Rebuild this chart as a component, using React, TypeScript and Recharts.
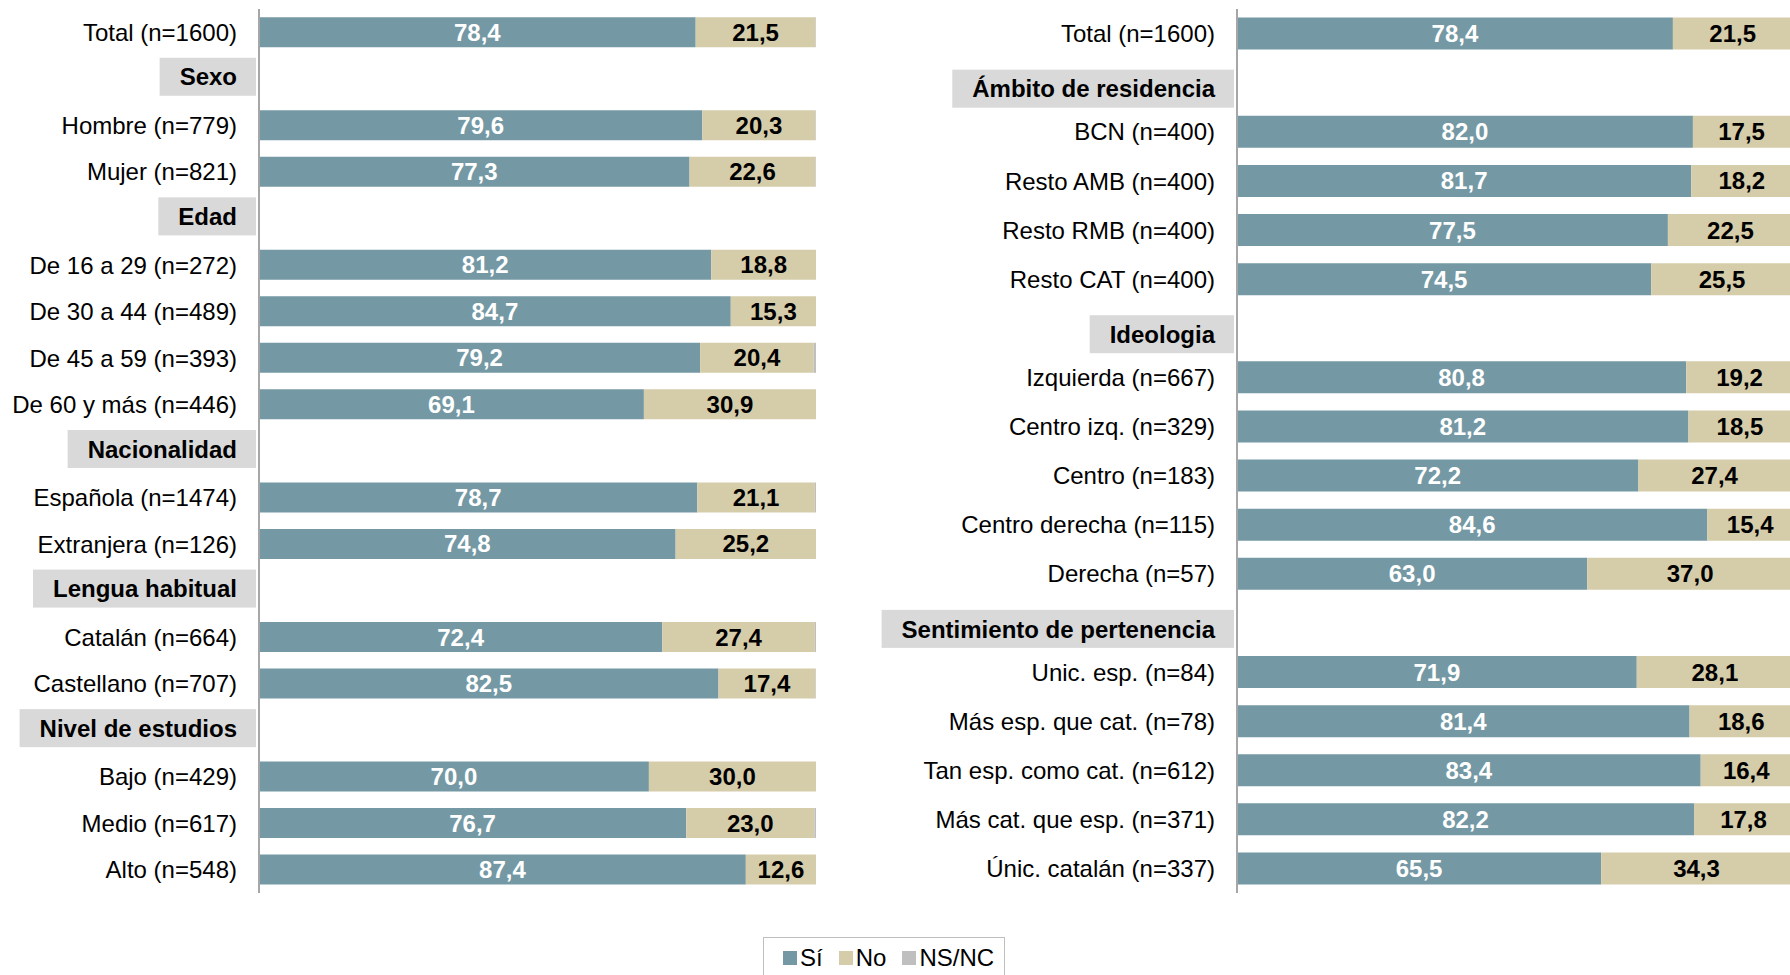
import { BarChart, Bar, XAxis, YAxis, LabelList } from "recharts"

const FONT = '"Liberation Sans", Arial, sans-serif'
const SI_COLOR = "#7499a4"
const NO_COLOR = "#d5ccaa"
const NSNC_COLOR = "#bfbfbf"

// left panel
const leftCategories = [
  "Total (n=1600)", "Sexo", "Hombre (n=779)", "Mujer (n=821)",
  "Edad", "De 16 a 29 (n=272)", "De 30 a 44 (n=489)", "De 45 a 59 (n=393)", "De 60 y más (n=446)",
  "Nacionalidad", "Española (n=1474)", "Extranjera (n=126)",
  "Lengua habitual", "Catalán (n=664)", "Castellano (n=707)",
  "Nivel de estudios", "Bajo (n=429)", "Medio (n=617)", "Alto (n=548)"
]
const leftHeaders = ["Sexo", "Edad", "Nacionalidad", "Lengua habitual", "Nivel de estudios"]
const leftSi = [78.4, null, 79.6, 77.3, null, 81.2, 84.7, 79.2, 69.1, null, 78.7, 74.8, null, 72.4, 82.5, null, 70.0, 76.7, 87.4]
const leftNo = [21.5, null, 20.3, 22.6, null, 18.8, 15.3, 20.4, 30.9, null, 21.1, 25.2, null, 27.4, 17.4, null, 30.0, 23.0, 12.6]
const leftNsnc = [0.1, null, 0.1, 0.1, null, 0, 0, 0.4, 0, null, 0.2, 0, null, 0.2, 0.1, null, 0, 0.3, 0]

// right panel
const rightCategories = [
  "Total (n=1600)", "Ámbito de residencia",
  "BCN (n=400)", "Resto AMB (n=400)", "Resto RMB (n=400)", "Resto CAT (n=400)",
  "Ideologia", "Izquierda (n=667)", "Centro izq. (n=329)", "Centro (n=183)", "Centro derecha (n=115)", "Derecha (n=57)",
  "Sentimiento de pertenencia", "Unic. esp. (n=84)", "Más esp. que cat. (n=78)", "Tan esp. como cat. (n=612)",
  "Más cat. que esp. (n=371)", "Únic. catalán (n=337)"
]
const rightHeaders = ["Ámbito de residencia", "Ideologia", "Sentimiento de pertenencia"]
const rightSi = [78.4, null, 82.0, 81.7, 77.5, 74.5, null, 80.8, 81.2, 72.2, 84.6, 63.0, null, 71.9, 81.4, 83.4, 82.2, 65.5]
const rightNo = [21.5, null, 17.5, 18.2, 22.5, 25.5, null, 19.2, 18.5, 27.4, 15.4, 37.0, null, 28.1, 18.6, 16.4, 17.8, 34.3]
const rightNsnc = [0.1, null, 0.5, 0.1, 0, 0, null, 0, 0.3, 0.4, 0, 0, null, 0, 0, 0.2, 0, 0.2]

const legendItems = [
  { name: "Sí", color: SI_COLOR },
  { name: "No", color: NO_COLOR },
  { name: "NS/NC", color: NSNC_COLOR }
]

let ctx: CanvasRenderingContext2D | null = null
function textWidth(s: string, font: string) {
  if (!ctx) ctx = document.createElement("canvas").getContext("2d")
  if (!ctx) return s.length * 13
  ctx.font = font
  return ctx.measureText(s).width
}

const fmt = (v: any) => (v == null ? "" : Number(v).toFixed(1).replace(".", ","))

function CategoryTick(props: any) {
  const { x, y, payload, headers, headerShift } = props
  const label = payload.value as string
  const right = x - 22
  if (headers.includes(label)) {
    const tw = textWidth(label, `bold 24px ${FONT}`)
    return (
      <g>
        <rect x={right - tw - 20} y={y - 19 + headerShift} width={tw + 39} height={38} fill="#d9d9d9" />
        <text x={right} y={y + headerShift} dy="0.36em" textAnchor="end" fontFamily={FONT} fontSize={24} fontWeight="bold" fill="#000">
          {label}
        </text>
      </g>
    )
  }
  return (
    <text x={right} y={y} dy="0.36em" textAnchor="end" fontFamily={FONT} fontSize={24} fill="#000">
      {label}
    </text>
  )
}

function GroupChart(props: {
  categories: string[]
  headers: string[]
  si: (number | null)[]
  no: (number | null)[]
  nsnc: (number | null)[]
  width: number
  axisWidth: number
  headerShift: number
}) {
  const { categories, headers, si, no, nsnc, width, axisWidth, headerShift } = props
  const data = categories.map((name, i) => ({ name, si: si[i], no: no[i], nsnc: nsnc[i] }))
  return (
    <BarChart
      width={width}
      height={900}
      data={data}
      layout="vertical"
      margin={{ top: 9, right: 0, bottom: 7, left: 0 }}
      barCategoryGap="17.5%"
    >
      <XAxis type="number" domain={[0, 100]} hide />
      <YAxis
        type="category"
        dataKey="name"
        width={axisWidth}
        interval={0}
        tickLine={false}
        tickSize={0}
        tickMargin={0}
        axisLine={{ stroke: "#a6a6a6", strokeWidth: 2 }}
        tick={(p: any) => <CategoryTick {...p} headers={headers} headerShift={headerShift} />}
      />
      <Bar dataKey="si" name="Sí" stackId="a" fill={SI_COLOR} isAnimationActive={false}>
        <LabelList dataKey="si" position="center" formatter={fmt} fill="#fff" fontSize={24} fontWeight="bold" fontFamily={FONT} />
      </Bar>
      <Bar dataKey="no" name="No" stackId="a" fill={NO_COLOR} isAnimationActive={false}>
        <LabelList dataKey="no" position="center" formatter={fmt} fill="#000" fontSize={24} fontWeight="bold" fontFamily={FONT} />
      </Bar>
      <Bar dataKey="nsnc" name="NS/NC" stackId="a" fill={NSNC_COLOR} isAnimationActive={false} />
    </BarChart>
  )
}

export default function App() {
  return (
    <div
      style={{
        position: "absolute",
        left: 0,
        top: 0,
        width: 1790,
        height: 975,
        overflow: "hidden",
        background: "#fff",
        fontFamily: FONT
      }}
    >
      <div style={{ position: "absolute", left: 0, top: 0 }}>
        <GroupChart
          categories={leftCategories}
          headers={leftHeaders}
          si={leftSi}
          no={leftNo}
          nsnc={leftNsnc}
          width={816}
          axisWidth={259}
          headerShift={-2}
        />
      </div>
      <div style={{ position: "absolute", left: 880, top: 0 }}>
        <GroupChart
          categories={rightCategories}
          headers={rightHeaders}
          si={rightSi}
          no={rightNo}
          nsnc={rightNsnc}
          width={913}
          axisWidth={357}
          headerShift={6}
        />
      </div>
      <div
        style={{
          position: "absolute",
          left: 763,
          top: 937,
          width: 242,
          height: 50,
          border: "1px solid #bfbfbf",
          display: "flex",
          alignItems: "flex-start",
          paddingLeft: 19,
          paddingTop: 6,
          boxSizing: "border-box",
          fontSize: 24,
          color: "#000"
        }}
      >
        {legendItems.map((it) => (
          <div key={it.name} style={{ display: "flex", alignItems: "center", marginRight: 16 }}>
            <span style={{ width: 14, height: 14, background: it.color, display: "inline-block", marginRight: 3 }} />
            <span style={{ lineHeight: "28px" }}>{it.name}</span>
          </div>
        ))}
      </div>
    </div>
  )
}
